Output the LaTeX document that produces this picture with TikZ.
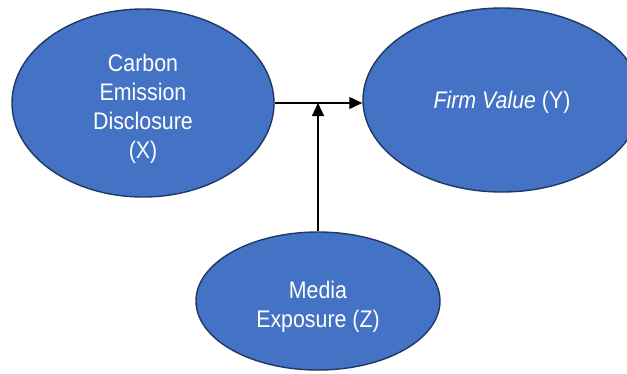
\documentclass[tikz,border=0pt]{standalone}
\usepackage{fontspec}
\setmainfont{Liberation Sans}[FakeStretch=0.89]
\usetikzlibrary{shapes.geometric,arrows.meta}
\definecolor{fillblue}{HTML}{4472C4}
\definecolor{edgeblue}{HTML}{1F3864}
\begin{document}
\begin{tikzpicture}[x=1pt,y=-1pt,
  var/.style={ellipse,draw=edgeblue,fill=fillblue,line width=1.4pt,inner sep=0pt},
  lbl/.style={text=white,align=center,inner sep=0pt,font=\fontsize{24}{29}\selectfont},
  conn/.style={draw=black,line width=1.2pt},
  tip/.style={-{Triangle[length=13pt,width=12pt]}}]
\useasboundingbox (0,0) rectangle (627,373);
\begin{scope}
\clip (0,0) rectangle (627,373);
\node[var,minimum width=262pt,minimum height=188pt] (X) at (143,103) {};
\node[var,minimum width=278pt,minimum height=184pt] (Y) at (502,100) {};
\node[var,minimum width=244pt,minimum height=138pt] (Z) at (318,301) {};
\end{scope}
\node[lbl] (Xt) at (143,109) {Carbon\\Emission\\Disclosure\\(X)};
\node[lbl] (Yt) at (502,102) {\textit{Firm Value} (Y)};
\node[lbl] (Zt) at (318,307) {Media\\Exposure (Z)};
\coordinate (m) at (Z.north |- X.east);
\draw[conn,tip] (X.east) -- (X.east -| Y.west);
\draw[conn,tip] (Z.north) -- (m);
\end{tikzpicture}
\end{document}
